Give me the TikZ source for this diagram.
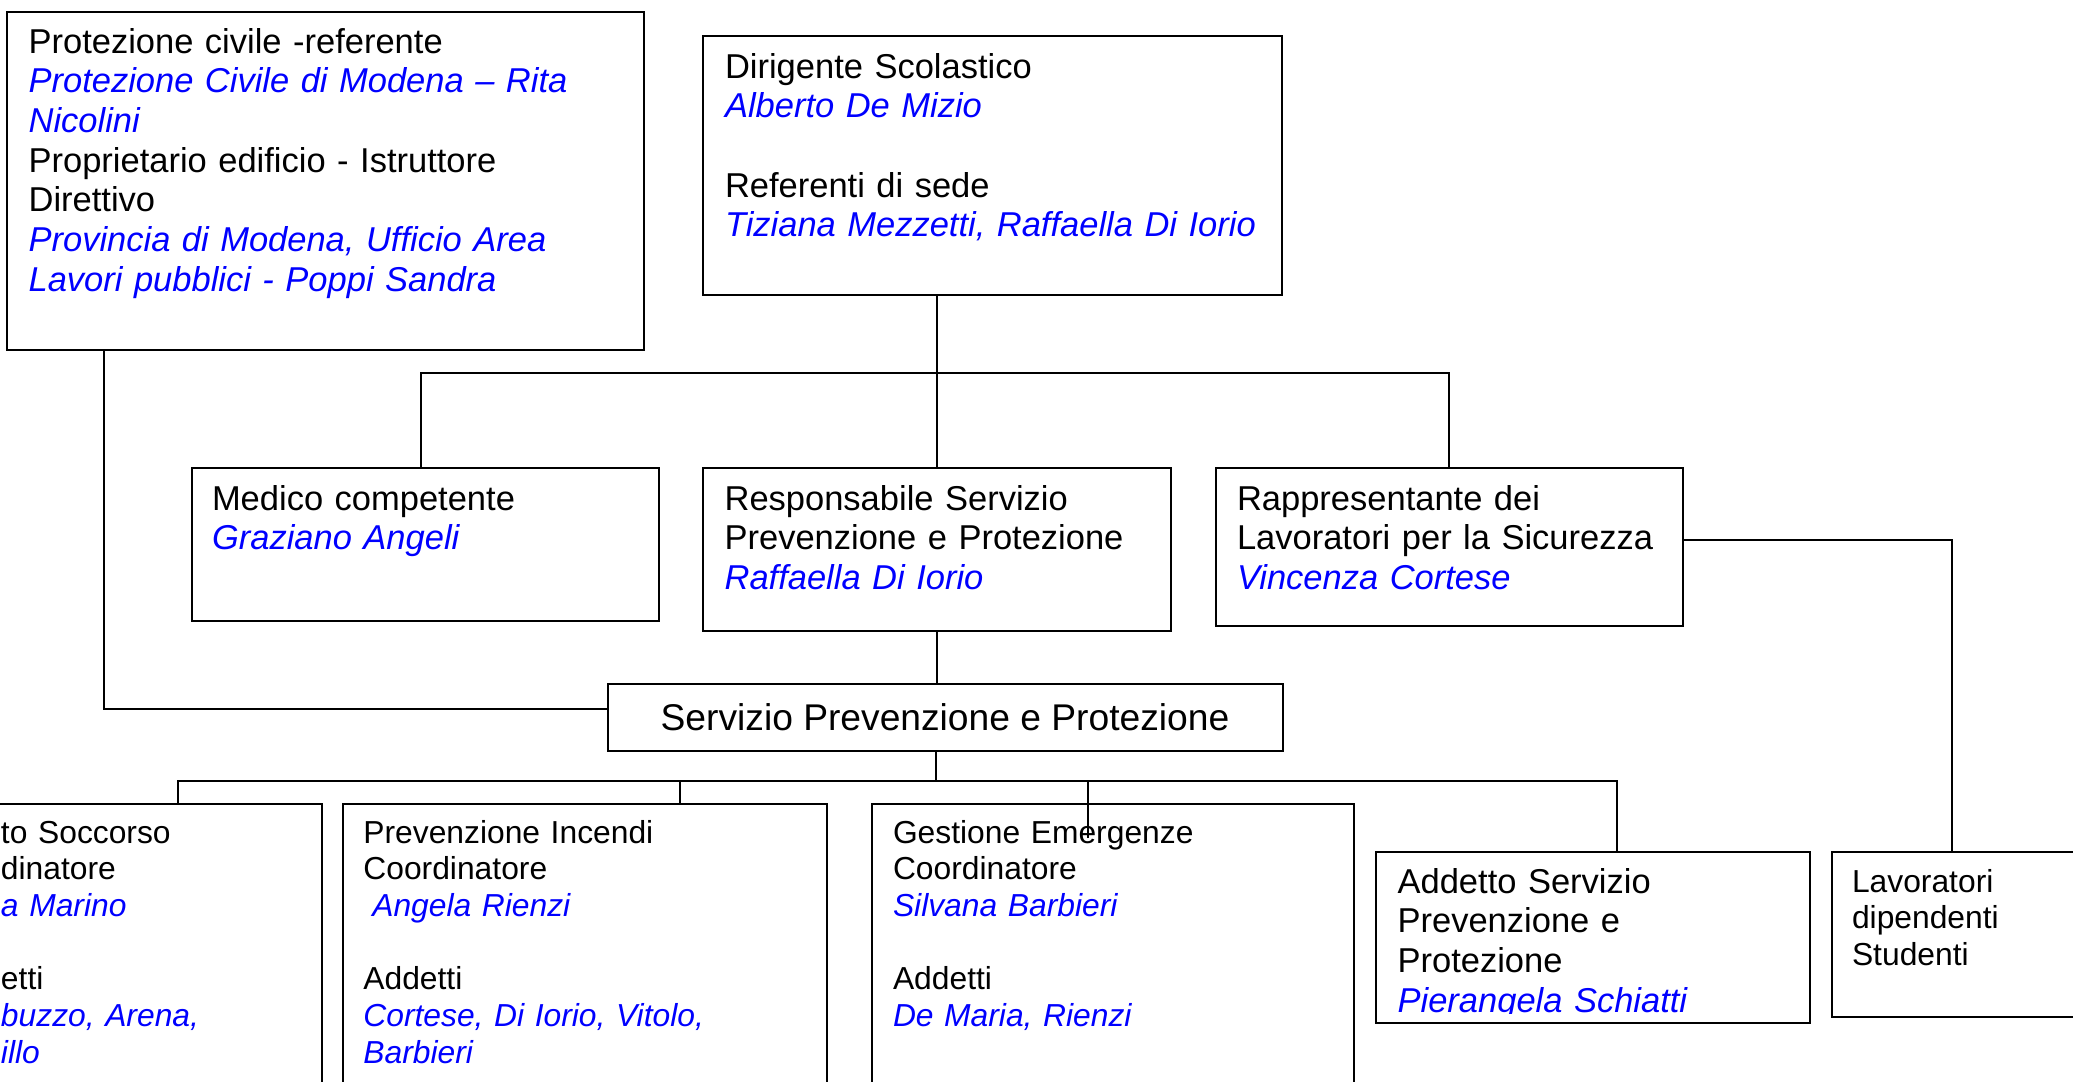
\documentclass[tikz,border=0pt]{standalone}
\usepackage{fontspec}
\setmainfont{Liberation Sans}

\newcommand{\nome}[1]{{\color{blue}\itshape #1}}

\begin{document}
\begin{tikzpicture}
[x=1pt, y=-1pt, line width=2pt,
 box/.style={shape=rectangle,draw,anchor=north west,inner sep=0pt},
 txt/.style={anchor=text,inner sep=0pt,align=left,text width=600pt},
 grande/.style={font=\fontsize{34.5}{39.7}\selectfont},
 piccolo/.style={font=\fontsize{31.8}{36.7}\selectfont}]
\useasboundingbox (0,0) rectangle (2073,1082);
\clip (0,0) rectangle (2073,1082);
% vertice
\node[box,minimum width=637pt,minimum height=338pt] (protciv) at (6,11) {};
\node[txt,grande] (protcivt) at ([shift={(22.6,42)}]protciv.north west)
  {Protezione civile -referente\\ \nome{Protezione Civile di Modena – Rita}\\ \nome{Nicolini}\\
   Proprietario edificio - Istruttore\\ Direttivo\\ \nome{Provincia di Modena, Ufficio Area}\\
   \nome{Lavori pubblici - Poppi Sandra}};
\node[box,minimum width=579pt,minimum height=259pt] (dir) at (702,35) {};
\node[txt,grande] (dirt) at ([shift={(23,43)}]dir.north west)
  {Dirigente Scolastico\\ \nome{Alberto De Mizio}\\[39.7pt] Referenti di sede\\
   \nome{Tiziana Mezzetti, Raffaella Di Iorio}};
% secondo livello
\node[box,minimum width=467pt,minimum height=152.5pt] (medico) at (190.5,467) {};
\node[txt,grande] (medicot) at ([shift={(21.5,43)}]medico.north west)
  {Medico competente\\ \nome{Graziano Angeli}};
\node[box,minimum width=468pt,minimum height=162.5pt] (rspp) at (702,467) {};
\node[txt,grande] (rsppt) at ([shift={(22.6,43)}]rspp.north west)
  {Responsabile Servizio\\ Prevenzione e Protezione\\ \nome{Raffaella Di Iorio}};
\node[box,minimum width=467.5pt,minimum height=158pt] (rls) at (1214.5,467) {};
\node[txt,grande] (rlst) at ([shift={(22.5,43)}]rls.north west)
  {Rappresentante dei\\ Lavoratori per la Sicurezza\\ \nome{Vincenza Cortese}};
\node[box,minimum width=675pt,minimum height=67pt,font=\fontsize{37.2}{42}\selectfont] (spp)
  at (606.5,683) {Servizio Prevenzione e Protezione};
% terzo livello
\node[box,minimum width=521pt,minimum height=400pt] (soccorso) at (-200,803) {};
\node[txt,piccolo] (soccorsot) at ([shift={(201,40)}]soccorso.north west)
  {to Soccorso\\ dinatore\\ \nome{a Marino}\\[36.7pt] etti\\ \nome{buzzo, Arena,}\\ \nome{illo}};
\node[box,minimum width=483.5pt,minimum height=400pt] (incendi) at (342,803) {};
\node[txt,piccolo] (incendit) at ([shift={(21.4,40)}]incendi.north west)
  {Prevenzione Incendi\\ Coordinatore\\ \nome{\hspace*{.28em}Angela Rienzi}\\[36.7pt] Addetti\\
   \nome{Cortese, Di Iorio, Vitolo,}\\ \nome{Barbieri}};
\node[box,minimum width=482pt,minimum height=400pt] (emerg) at (871,803) {};
\node[txt,piccolo] (emergt) at ([shift={(22,40)}]emerg.north west)
  {Gestione Emergenze\\ Coordinatore\\ \nome{Silvana Barbieri}\\[36.7pt] Addetti\\ \nome{De Maria, Rienzi}};
\node[box,minimum width=434pt,minimum height=170.5pt] (aspp) at (1375,851) {};
\begin{scope}
\clip (aspp.north west) rectangle ([yshift=10.5pt]aspp.south east);
\node[txt,grande] (asppt) at ([shift={(22.6,42)}]aspp.north west)
  {Addetto Servizio\\ Prevenzione e\\ Protezione\\ \nome{Pierangela Schiatti}};
\end{scope}
\node[box,minimum width=400pt,minimum height=165pt] (lav) at (1830.5,851) {};
\node[txt,piccolo] (lavt) at ([shift={(21.5,41)}]lav.north west)
  {Lavoratori\\ dipendenti\\ Studenti};
% collegamenti
\coordinate (bus1) at (936,373);
\coordinate (bus2) at (936,781);
\coordinate (s1) at ([xshift=-145pt]soccorso.north east);
\coordinate (s2) at ([xshift=338pt]incendi.north west);
\coordinate (s3) at ([xshift=217pt,yshift=-35pt]emerg.north west);
\coordinate (s4) at ([xshift=242pt]aspp.north west);
\draw (dir.south -| rspp.north) -- (rspp.north);
\draw ([xshift=-4.5pt]medico.north) |- (bus1) -| (rls.north);
\draw (rspp.south) -- (rspp.south |- spp.north);
\draw ([xshift=98pt]protciv.south west) |- ([yshift=8.5pt]spp.west);
\draw ([yshift=7pt]rls.east) -| ([xshift=121.5pt]lav.north west);
\draw (spp.south -| bus2) -- (bus2);
\draw (s1) |- (bus2) -| (s4);
\draw (s2) -- (s2 |- bus2);
\draw (s3) -- (s3 |- bus2);
\end{tikzpicture}
\end{document}
